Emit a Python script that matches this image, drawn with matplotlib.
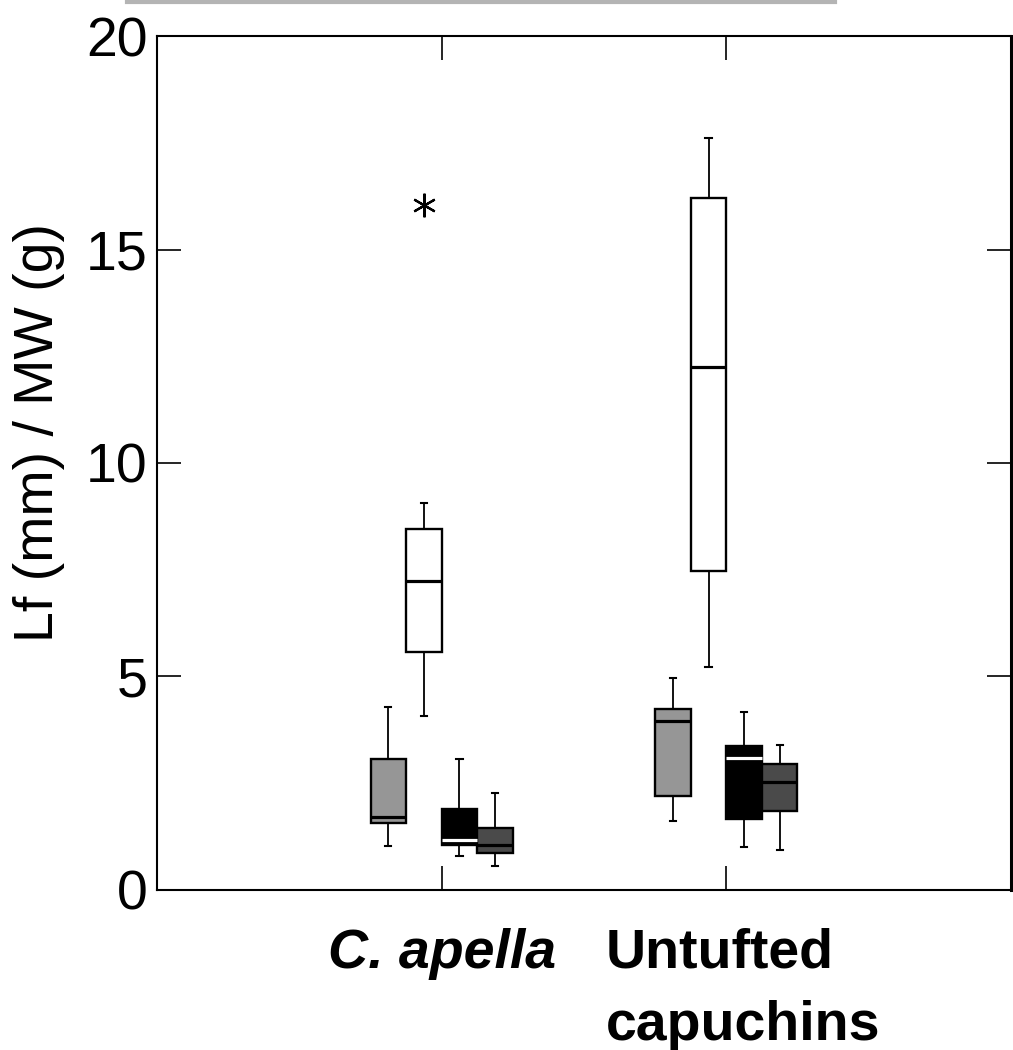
import matplotlib
matplotlib.use('Agg')
import matplotlib.pyplot as plt
from matplotlib.lines import Line2D
from matplotlib import transforms

plt.rcParams['font.family'] = ['Liberation Sans', 'DejaVu Sans']

groups = ['C. apella', 'Untufted\ncapuchins']
box_colors = ['#969696', '#ffffff', '#000000', '#4a4a4a']
median_colors = ['#000000', '#000000', '#ffffff', '#000000']

# whislo, q1, med, q3, whishi  (4 boxes per group)
apella = [
    [1.03, 1.56, 1.72, 3.06, 4.28],
    [4.08, 5.57, 7.24, 8.46, 9.07],
    [0.80, 1.05, 1.17, 1.90, 3.06],
    [0.56, 0.86, 1.05, 1.44, 2.26],
]
untufted = [
    [1.61, 2.21, 3.95, 4.25, 4.96],
    [5.23, 7.47, 12.25, 16.20, 17.60],
    [1.01, 1.67, 3.08, 3.37, 4.18],
    [0.94, 1.86, 2.52, 2.95, 3.39],
]
apella_fliers = [[], [16.04], [], []]
untufted_fliers = [[], [], [], []]

yticks = [0, 5, 10, 15, 20]

fig = plt.figure(figsize=(10.13, 10.5), dpi=100)
ax = fig.add_axes([0.155, 0.1524, 0.843, 0.8133])

w = 0.125
offsets = [-1.5 * w, -0.5 * w, 0.5 * w, 1.5 * w]
stats, pos, faces, meds = [], [], [], []
for gi, (data, fl) in enumerate([(apella, apella_fliers), (untufted, untufted_fliers)]):
    for bi, v in enumerate(data):
        stats.append(dict(whislo=v[0], q1=v[1], med=v[2], q3=v[3], whishi=v[4], fliers=fl[bi]))
        pos.append(gi + 1 + offsets[bi])
        faces.append(box_colors[bi])
        meds.append(median_colors[bi])

bp = ax.bxp(stats, positions=pos, widths=w, patch_artist=True, capwidths=0.022,
            boxprops=dict(linewidth=1.7, edgecolor='black'),
            whiskerprops=dict(linewidth=1.3, color='black'),
            capprops=dict(linewidth=1.5, color='black'),
            medianprops=dict(linewidth=2.3),
            flierprops=dict(marker=(6, 2, 0), markersize=17, markeredgewidth=1.6,
                            markeredgecolor='black', linestyle='none'))
for p, c in zip(bp['boxes'], faces):
    p.set_facecolor(c)
for m, c in zip(bp['medians'], meds):
    m.set_color(c)

ax.set_xlim(0, 3)
ax.set_ylim(0, 20)
ax.set_xticks([1, 2])
ax.set_xticklabels(['', ''])
ax.set_yticks(yticks)
ax.set_yticklabels([str(t) for t in yticks], fontsize=40)
ax.tick_params(direction='in', length=17.5, width=1.2, top=True, right=True, pad=7)
for s in ax.spines.values():
    s.set_linewidth(1.5)
ax.spines['right'].set_linewidth(2.2)

ax.set_ylabel('Lf (mm) / MW (g)', fontsize=40)
ax.yaxis.set_label_coords(-0.108, 0.536)

trans = transforms.blended_transform_factory(ax.transData, ax.transAxes)
ax.text(1, -0.044, 'C. apella', transform=trans, ha='center', va='top',
        fontsize=40, fontweight='bold', fontstyle='italic')
ax.text(2, -0.044, groups[1], transform=transforms.offset_copy(trans, fig, x=17, units='dots'),
        ha='center', va='top', multialignment='left', linespacing=1.5,
        fontsize=40, fontweight='bold')

fig.add_artist(Line2D([127 / 1013, 835 / 1013], [1 - 2 / 1050] * 2, color='#b4b4b4', lw=3))

fig.savefig('out.png', dpi=100)
